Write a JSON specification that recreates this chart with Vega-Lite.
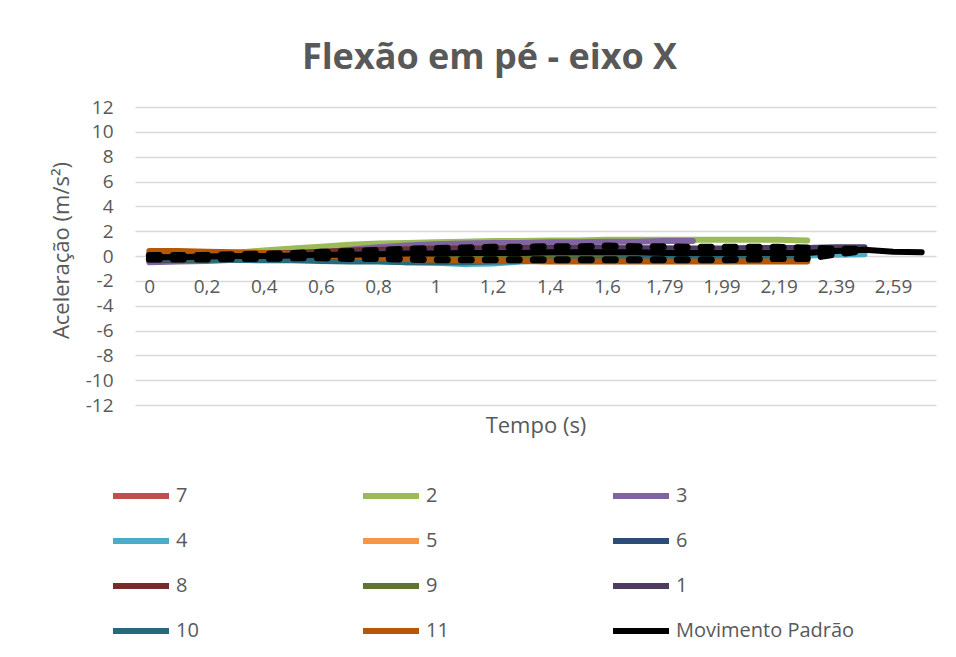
{
  "$schema": "https://vega.github.io/schema/vega-lite/v6.json",
  "autosize": "none",
  "width": 801,
  "height": 298,
  "padding": {"left": 135, "top": 107, "right": 20, "bottom": 252},
  "background": "white",
  "config": {
    "font": "Open Sans",
    "view": {"stroke": null},
    "axis": {"labelColor": "#595959", "titleColor": "#595959", "labelFont": "Open Sans", "titleFont": "Open Sans", "titleFontWeight": "normal"}
  },
  "title": {
    "text": "Flexão em pé - eixo X",
    "font": "Open Sans",
    "fontSize": 36,
    "fontWeight": "bold",
    "color": "#595959",
    "anchor": "middle",
    "baseline": "alphabetic",
    "offset": -7,
    "dx": -46
  },
  "data": {
    "values": [
      {"s":"7","t":"0","v":0.15},{"s":"7","t":"0,1","v":0.15},{"s":"7","t":"0,2","v":0.2},{"s":"7","t":"0,3","v":0.2},{"s":"7","t":"0,4","v":0.25},{"s":"7","t":"0,5","v":0.3},{"s":"7","t":"0,6","v":0.3},{"s":"7","t":"0,7","v":0.35},{"s":"7","t":"0,8","v":0.4},{"s":"7","t":"0,9","v":0.4},{"s":"7","t":"1","v":0.45},{"s":"7","t":"1,1","v":0.45},{"s":"7","t":"1,2","v":0.5},{"s":"7","t":"1,3","v":0.5},{"s":"7","t":"1,4","v":0.5},{"s":"7","t":"1,5","v":0.5},{"s":"7","t":"1,6","v":0.5},{"s":"7","t":"1,69","v":0.45},{"s":"7","t":"1,79","v":0.45},{"s":"7","t":"1,89","v":0.45},{"s":"7","t":"1,99","v":0.4},{"s":"7","t":"2,09","v":0.4},{"s":"7","t":"2,19","v":0.4},{"s":"7","t":"2,29","v":0.35},
      {"s":"2","t":"0","v":-0.3},{"s":"2","t":"0,1","v":-0.15},{"s":"2","t":"0,2","v":0.05},{"s":"2","t":"0,3","v":0.25},{"s":"2","t":"0,4","v":0.45},{"s":"2","t":"0,5","v":0.6},{"s":"2","t":"0,6","v":0.75},{"s":"2","t":"0,7","v":0.9},{"s":"2","t":"0,8","v":1.0},{"s":"2","t":"0,9","v":1.05},{"s":"2","t":"1","v":1.1},{"s":"2","t":"1,1","v":1.15},{"s":"2","t":"1,2","v":1.2},{"s":"2","t":"1,3","v":1.2},{"s":"2","t":"1,4","v":1.25},{"s":"2","t":"1,5","v":1.25},{"s":"2","t":"1,6","v":1.3},{"s":"2","t":"1,69","v":1.3},{"s":"2","t":"1,79","v":1.3},{"s":"2","t":"1,89","v":1.3},{"s":"2","t":"1,99","v":1.3},{"s":"2","t":"2,09","v":1.3},{"s":"2","t":"2,19","v":1.3},{"s":"2","t":"2,29","v":1.25},
      {"s":"3","t":"0","v":-0.5},{"s":"3","t":"0,1","v":-0.45},{"s":"3","t":"0,2","v":-0.4},{"s":"3","t":"0,3","v":-0.3},{"s":"3","t":"0,4","v":-0.15},{"s":"3","t":"0,5","v":0.05},{"s":"3","t":"0,6","v":0.25},{"s":"3","t":"0,7","v":0.5},{"s":"3","t":"0,8","v":0.7},{"s":"3","t":"0,9","v":0.85},{"s":"3","t":"1","v":0.95},{"s":"3","t":"1,1","v":1.0},{"s":"3","t":"1,2","v":1.05},{"s":"3","t":"1,3","v":1.05},{"s":"3","t":"1,4","v":1.1},{"s":"3","t":"1,5","v":1.1},{"s":"3","t":"1,6","v":1.15},{"s":"3","t":"1,69","v":1.15},{"s":"3","t":"1,79","v":1.2},{"s":"3","t":"1,89","v":1.2},
      {"s":"4","t":"0","v":0},{"s":"4","t":"0,1","v":-0.05},{"s":"4","t":"0,2","v":-0.1},{"s":"4","t":"0,3","v":-0.15},{"s":"4","t":"0,4","v":-0.2},{"s":"4","t":"0,5","v":-0.25},{"s":"4","t":"0,6","v":-0.3},{"s":"4","t":"0,7","v":-0.35},{"s":"4","t":"0,8","v":-0.4},{"s":"4","t":"0,9","v":-0.5},{"s":"4","t":"1","v":-0.55},{"s":"4","t":"1,1","v":-0.65},{"s":"4","t":"1,2","v":-0.6},{"s":"4","t":"1,3","v":-0.45},{"s":"4","t":"1,4","v":-0.35},{"s":"4","t":"1,5","v":-0.3},{"s":"4","t":"1,6","v":-0.25},{"s":"4","t":"1,69","v":-0.2},{"s":"4","t":"1,79","v":-0.15},{"s":"4","t":"1,89","v":-0.1},{"s":"4","t":"1,99","v":-0.05},{"s":"4","t":"2,09","v":0},{"s":"4","t":"2,19","v":0},{"s":"4","t":"2,29","v":0.05},{"s":"4","t":"2,39","v":0.1},{"s":"4","t":"2,49","v":0.15},
      {"s":"5","t":"0","v":0.25},{"s":"5","t":"0,1","v":0.2},{"s":"5","t":"0,2","v":0.15},{"s":"5","t":"0,3","v":0.1},{"s":"5","t":"0,4","v":0.05},{"s":"5","t":"0,5","v":0},{"s":"5","t":"0,6","v":-0.05},{"s":"5","t":"0,7","v":-0.1},{"s":"5","t":"0,8","v":-0.1},{"s":"5","t":"0,9","v":-0.15},{"s":"5","t":"1","v":-0.15},{"s":"5","t":"1,1","v":-0.2},{"s":"5","t":"1,2","v":-0.2},{"s":"5","t":"1,3","v":-0.2},{"s":"5","t":"1,4","v":-0.2},{"s":"5","t":"1,5","v":-0.2},{"s":"5","t":"1,6","v":-0.2},{"s":"5","t":"1,69","v":-0.2},{"s":"5","t":"1,79","v":-0.2},{"s":"5","t":"1,89","v":-0.2},{"s":"5","t":"1,99","v":-0.2},{"s":"5","t":"2,09","v":-0.2},{"s":"5","t":"2,19","v":-0.2},{"s":"5","t":"2,29","v":-0.2},
      {"s":"6","t":"0","v":-0.1},{"s":"6","t":"0,1","v":-0.1},{"s":"6","t":"0,2","v":-0.1},{"s":"6","t":"0,3","v":-0.05},{"s":"6","t":"0,4","v":-0.05},{"s":"6","t":"0,5","v":0},{"s":"6","t":"0,6","v":0},{"s":"6","t":"0,7","v":0},{"s":"6","t":"0,8","v":0},{"s":"6","t":"0,9","v":0},{"s":"6","t":"1","v":0},{"s":"6","t":"1,1","v":0},{"s":"6","t":"1,2","v":0},{"s":"6","t":"1,3","v":0},{"s":"6","t":"1,4","v":-0.05},{"s":"6","t":"1,5","v":-0.05},{"s":"6","t":"1,6","v":-0.05},{"s":"6","t":"1,69","v":-0.05},{"s":"6","t":"1,79","v":-0.05},{"s":"6","t":"1,89","v":0},{"s":"6","t":"1,99","v":0},{"s":"6","t":"2,09","v":0},{"s":"6","t":"2,19","v":0},{"s":"6","t":"2,29","v":0},
      {"s":"8","t":"0","v":0.1},{"s":"8","t":"0,1","v":0.1},{"s":"8","t":"0,2","v":0.1},{"s":"8","t":"0,3","v":0.15},{"s":"8","t":"0,4","v":0.2},{"s":"8","t":"0,5","v":0.25},{"s":"8","t":"0,6","v":0.35},{"s":"8","t":"0,7","v":0.45},{"s":"8","t":"0,8","v":0.5},{"s":"8","t":"0,9","v":0.55},{"s":"8","t":"1","v":0.6},{"s":"8","t":"1,1","v":0.6},{"s":"8","t":"1,2","v":0.6},{"s":"8","t":"1,3","v":0.65},{"s":"8","t":"1,4","v":0.65},{"s":"8","t":"1,5","v":0.65},{"s":"8","t":"1,6","v":0.65},{"s":"8","t":"1,69","v":0.6},{"s":"8","t":"1,79","v":0.6},{"s":"8","t":"1,89","v":0.55},{"s":"8","t":"1,99","v":0.5},{"s":"8","t":"2,09","v":0.5},{"s":"8","t":"2,19","v":0.45},{"s":"8","t":"2,29","v":0.45},
      {"s":"9","t":"0","v":-0.35},{"s":"9","t":"0,1","v":-0.35},{"s":"9","t":"0,2","v":-0.3},{"s":"9","t":"0,3","v":-0.3},{"s":"9","t":"0,4","v":-0.25},{"s":"9","t":"0,5","v":-0.25},{"s":"9","t":"0,6","v":-0.2},{"s":"9","t":"0,7","v":-0.2},{"s":"9","t":"0,8","v":-0.2},{"s":"9","t":"0,9","v":-0.2},{"s":"9","t":"1","v":-0.2},{"s":"9","t":"1,1","v":-0.2},{"s":"9","t":"1,2","v":-0.15},{"s":"9","t":"1,3","v":-0.15},{"s":"9","t":"1,4","v":-0.15},{"s":"9","t":"1,5","v":-0.15},{"s":"9","t":"1,6","v":-0.15},{"s":"9","t":"1,69","v":-0.15},{"s":"9","t":"1,79","v":-0.15},{"s":"9","t":"1,89","v":-0.15},{"s":"9","t":"1,99","v":-0.1},{"s":"9","t":"2,09","v":-0.1},{"s":"9","t":"2,19","v":-0.1},{"s":"9","t":"2,29","v":-0.1},
      {"s":"1","t":"0","v":-0.3},{"s":"1","t":"0,1","v":-0.3},{"s":"1","t":"0,2","v":-0.25},{"s":"1","t":"0,3","v":-0.2},{"s":"1","t":"0,4","v":-0.1},{"s":"1","t":"0,5","v":0},{"s":"1","t":"0,6","v":0.1},{"s":"1","t":"0,7","v":0.2},{"s":"1","t":"0,8","v":0.3},{"s":"1","t":"0,9","v":0.35},{"s":"1","t":"1","v":0.4},{"s":"1","t":"1,1","v":0.45},{"s":"1","t":"1,2","v":0.5},{"s":"1","t":"1,3","v":0.5},{"s":"1","t":"1,4","v":0.55},{"s":"1","t":"1,5","v":0.55},{"s":"1","t":"1,6","v":0.6},{"s":"1","t":"1,69","v":0.6},{"s":"1","t":"1,79","v":0.6},{"s":"1","t":"1,89","v":0.6},{"s":"1","t":"1,99","v":0.6},{"s":"1","t":"2,09","v":0.65},{"s":"1","t":"2,19","v":0.65},{"s":"1","t":"2,29","v":0.65},{"s":"1","t":"2,39","v":0.7},{"s":"1","t":"2,49","v":0.7},
      {"s":"10","t":"0","v":-0.2},{"s":"10","t":"0,1","v":-0.25},{"s":"10","t":"0,2","v":-0.3},{"s":"10","t":"0,3","v":-0.3},{"s":"10","t":"0,4","v":-0.35},{"s":"10","t":"0,5","v":-0.35},{"s":"10","t":"0,6","v":-0.4},{"s":"10","t":"0,7","v":-0.45},{"s":"10","t":"0,8","v":-0.45},{"s":"10","t":"0,9","v":-0.5},{"s":"10","t":"1","v":-0.5},{"s":"10","t":"1,1","v":-0.5},{"s":"10","t":"1,2","v":-0.45},{"s":"10","t":"1,3","v":-0.4},{"s":"10","t":"1,4","v":-0.35},{"s":"10","t":"1,5","v":-0.3},{"s":"10","t":"1,6","v":-0.3},{"s":"10","t":"1,69","v":-0.25},{"s":"10","t":"1,79","v":-0.25},{"s":"10","t":"1,89","v":-0.2},{"s":"10","t":"1,99","v":-0.2},{"s":"10","t":"2,09","v":-0.2},{"s":"10","t":"2,19","v":-0.15},{"s":"10","t":"2,29","v":-0.15},
      {"s":"11","t":"0","v":0.4},{"s":"11","t":"0,1","v":0.4},{"s":"11","t":"0,2","v":0.35},{"s":"11","t":"0,3","v":0.3},{"s":"11","t":"0,4","v":0.25},{"s":"11","t":"0,5","v":0.15},{"s":"11","t":"0,6","v":0.05},{"s":"11","t":"0,7","v":-0.05},{"s":"11","t":"0,8","v":-0.15},{"s":"11","t":"0,9","v":-0.25},{"s":"11","t":"1","v":-0.3},{"s":"11","t":"1,1","v":-0.35},{"s":"11","t":"1,2","v":-0.4},{"s":"11","t":"1,3","v":-0.4},{"s":"11","t":"1,4","v":-0.45},{"s":"11","t":"1,5","v":-0.45},{"s":"11","t":"1,6","v":-0.45},{"s":"11","t":"1,69","v":-0.45},{"s":"11","t":"1,79","v":-0.45},{"s":"11","t":"1,89","v":-0.45},{"s":"11","t":"1,99","v":-0.45},{"s":"11","t":"2,09","v":-0.45},{"s":"11","t":"2,19","v":-0.45},{"s":"11","t":"2,29","v":-0.45},
      {"s":"Movimento Padrão","t":"0","v":-0.1},{"s":"Movimento Padrão","t":"0,1","v":-0.1},{"s":"Movimento Padrão","t":"0,2","v":-0.05},{"s":"Movimento Padrão","t":"0,3","v":0},{"s":"Movimento Padrão","t":"0,4","v":0},{"s":"Movimento Padrão","t":"0,5","v":0.05},{"s":"Movimento Padrão","t":"0,6","v":0.1},{"s":"Movimento Padrão","t":"0,7","v":0.1},{"s":"Movimento Padrão","t":"0,8","v":0.15},{"s":"Movimento Padrão","t":"0,9","v":0.2},{"s":"Movimento Padrão","t":"1","v":0.2},{"s":"Movimento Padrão","t":"1,1","v":0.25},{"s":"Movimento Padrão","t":"1,2","v":0.25},{"s":"Movimento Padrão","t":"1,3","v":0.25},{"s":"Movimento Padrão","t":"1,4","v":0.3},{"s":"Movimento Padrão","t":"1,5","v":0.3},{"s":"Movimento Padrão","t":"1,6","v":0.3},{"s":"Movimento Padrão","t":"1,69","v":0.3},{"s":"Movimento Padrão","t":"1,79","v":0.25},{"s":"Movimento Padrão","t":"1,89","v":0.25},{"s":"Movimento Padrão","t":"1,99","v":0.25},{"s":"Movimento Padrão","t":"2,09","v":0.25},{"s":"Movimento Padrão","t":"2,19","v":0.25},{"s":"Movimento Padrão","t":"2,29","v":0.25},{"s":"Movimento Padrão","t":"2,39","v":0.4},{"s":"Movimento Padrão","t":"2,49","v":0.5},{"s":"Movimento Padrão","t":"2,59","v":0.35},{"s":"Movimento Padrão","t":"2,69","v":0.3},
      {"s":"Sup","t":"0","v":0.05},{"s":"Sup","t":"0,1","v":0.05},{"s":"Sup","t":"0,2","v":0.05},{"s":"Sup","t":"0,3","v":0.1},{"s":"Sup","t":"0,4","v":0.15},{"s":"Sup","t":"0,5","v":0.2},{"s":"Sup","t":"0,6","v":0.3},{"s":"Sup","t":"0,7","v":0.35},{"s":"Sup","t":"0,8","v":0.45},{"s":"Sup","t":"0,9","v":0.55},{"s":"Sup","t":"1","v":0.6},{"s":"Sup","t":"1,1","v":0.65},{"s":"Sup","t":"1,2","v":0.7},{"s":"Sup","t":"1,3","v":0.7},{"s":"Sup","t":"1,4","v":0.75},{"s":"Sup","t":"1,5","v":0.75},{"s":"Sup","t":"1,6","v":0.8},{"s":"Sup","t":"1,69","v":0.75},{"s":"Sup","t":"1,79","v":0.75},{"s":"Sup","t":"1,89","v":0.7},{"s":"Sup","t":"1,99","v":0.7},{"s":"Sup","t":"2,09","v":0.7},{"s":"Sup","t":"2,19","v":0.7},{"s":"Sup","t":"2,29","v":0.65},{"s":"Sup","t":"2,39","v":0.55},{"s":"Sup","t":"2,49","v":0.55},
      {"s":"Inf","t":"0","v":-0.25},{"s":"Inf","t":"0,1","v":-0.25},{"s":"Inf","t":"0,2","v":-0.25},{"s":"Inf","t":"0,3","v":-0.2},{"s":"Inf","t":"0,4","v":-0.2},{"s":"Inf","t":"0,5","v":-0.15},{"s":"Inf","t":"0,6","v":-0.15},{"s":"Inf","t":"0,7","v":-0.2},{"s":"Inf","t":"0,8","v":-0.2},{"s":"Inf","t":"0,9","v":-0.25},{"s":"Inf","t":"1","v":-0.3},{"s":"Inf","t":"1,1","v":-0.3},{"s":"Inf","t":"1,2","v":-0.3},{"s":"Inf","t":"1,3","v":-0.3},{"s":"Inf","t":"1,4","v":-0.3},{"s":"Inf","t":"1,5","v":-0.3},{"s":"Inf","t":"1,6","v":-0.3},{"s":"Inf","t":"1,69","v":-0.3},{"s":"Inf","t":"1,79","v":-0.3},{"s":"Inf","t":"1,89","v":-0.3},{"s":"Inf","t":"1,99","v":-0.3},{"s":"Inf","t":"2,09","v":-0.25},{"s":"Inf","t":"2,19","v":-0.2},{"s":"Inf","t":"2,29","v":-0.2},{"s":"Inf","t":"2,39","v":0.15},{"s":"Inf","t":"2,49","v":0.45}
    ]
  },
  "encoding": {
    "x": {
      "field": "t",
      "type": "ordinal",
      "sort": null,
      "scale": {"type": "point", "padding": 0.5},
      "axis": {
        "title": "Tempo (s)",
        "titleFontSize": 22,
        "titleY": 169,
        "titleBaseline": "middle",
        "offset": -149,
        "domain": false,
        "ticks": false,
        "grid": false,
        "labelAngle": 0,
        "labelFontSize": 19,
        "labelPadding": 21,
        "labelOverlap": false,
        "values": ["0","0,2","0,4","0,6","0,8","1","1,2","1,4","1,6","1,79","1,99","2,19","2,39","2,59"]
      }
    },
    "y": {
      "field": "v",
      "type": "quantitative",
      "scale": {"domain": [-12, 12], "nice": false},
      "axis": {
        "title": "Aceleração (m/s²)",
        "titleFontSize": 22,
        "titlePadding": 12,
        "titleY": 143,
        "values": [-12,-10,-8,-6,-4,-2,0,2,4,6,8,10,12],
        "labelExpr": "datum.value + ''",
        "domain": false,
        "ticks": false,
        "grid": true,
        "gridColor": "#D9D9D9",
        "gridWidth": 1.3,
        "labelFontSize": 19,
        "labelPadding": 22
      }
    }
  },
  "layer": [
    {
      "transform": [{"filter": "datum.s !== 'Sup' && datum.s !== 'Inf'"}],
      "mark": {"type": "line", "strokeWidth": 6, "strokeCap": "round", "strokeJoin": "round"},
      "encoding": {
        "color": {
          "field": "s",
          "type": "nominal",
          "scale": {
            "domain": ["7","4","8","10","2","5","9","11","3","6","1","Movimento Padrão"],
            "range": ["#C0504D","#4BACC6","#772C2A","#276A7C","#9BBB59","#F79646","#5F7530","#B65708","#8064A2","#2C4D75","#4D3B62","#000000"]
          },
          "legend": {
            "title": null,
            "orient": "none",
            "legendX": -25,
            "legendY": 358,
            "columns": 3,
            "gridAlign": "all",
            "columnPadding": -4,
            "rowPadding": 2,
            "padding": 0,
            "symbolType": "stroke",
            "symbolSize": 3136,
            "symbolStrokeWidth": 6,
            "labelFontSize": 20,
            "labelFont": "Open Sans",
            "labelColor": "#595959",
            "labelOffset": 4,
            "labelLimit": 300
          }
        }
      }
    },
    {
      "transform": [{"filter": "datum.s === 'Sup' || datum.s === 'Inf'"}],
      "mark": {"type": "line", "color": "#000000", "strokeWidth": 7, "strokeCap": "round", "strokeDash": [10, 14]},
      "encoding": {"detail": {"field": "s", "type": "nominal"}}
    }
  ]
}
